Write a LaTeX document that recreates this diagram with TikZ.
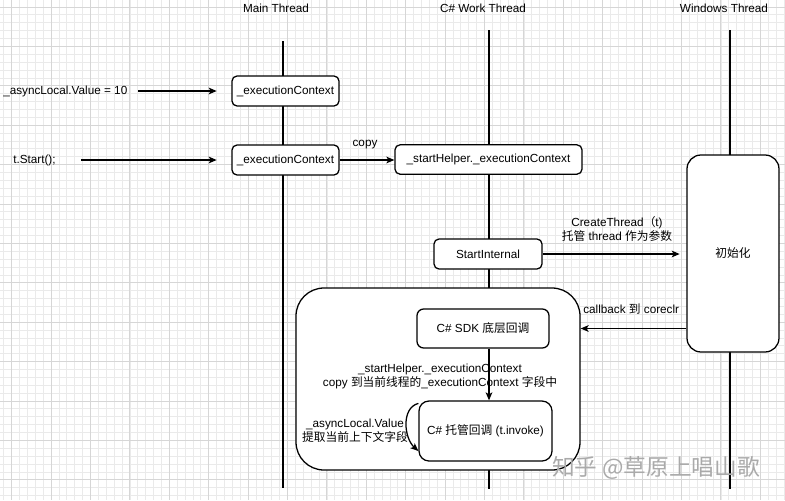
\documentclass[tikz,border=0pt]{standalone}
\usepackage{fontspec}
\setmainfont{Liberation Sans}
\newfontfamily\cjk{Noto Sans CJK SC}
\usetikzlibrary{arrows.meta,calc}
\definecolor{gridminor}{HTML}{EAEAEA}
\definecolor{gridmajor}{HTML}{D6D6D6}
\definecolor{wmgray}{HTML}{AAAAAA}
\begin{document}
\begin{tikzpicture}[x=0.75pt,y=-0.75pt,
  font=\fontsize{8.8}{10.5}\selectfont,
  box/.style={draw, fill=white, line width=0.95pt, inner sep=0pt, rounded corners=3.75pt, align=center},
  life/.style={line width=0.95pt},
  arr/.style={line width=0.95pt, -{Stealth[length=6pt,width=5pt,inset=1.5pt]}},
  lbl/.style={inner sep=0pt, align=center}]
\useasboundingbox[fill=white] (0,0) rectangle (785,500);
% grid
\foreach \k in {-1,...,98} {\draw[gridminor, line width=0.6pt] ({11.7+7.88*\k},0) -- ({11.7+7.88*\k},500);}
\foreach \k in {-1,...,63} {\draw[gridminor, line width=0.6pt] (0,{7+7.88*\k}) -- (785,{7+7.88*\k});}
\foreach \k in {0,...,19} {\draw[gridmajor, line width=0.7pt] ({11.7+39.4*\k},0) -- ({11.7+39.4*\k},500);}
\foreach \k in {0,...,12} {\draw[gridmajor, line width=0.7pt] (0,{7+39.4*\k}) -- (785,{7+39.4*\k});}
% headers
\node[lbl] (h1) at (276,8) {Main Thread};
\node[lbl] (h2) at (483,8) {C\# Work Thread};
\node[lbl] (h3) at (724,8) {Windows Thread};
% lifelines
\coordinate (mainTop) at (283,41);
\coordinate (mainBot) at (283,488);
\coordinate (csTop) at (489,30);
\coordinate (csBot) at (489,489);
\coordinate (winTop) at (730,30);
\coordinate (winBot) at (730,489);
\draw[life] (mainTop) -- (mainBot);
\draw[life] (csTop) -- (csBot);
\draw[life] (winTop) -- (winBot);
% boxes
\node[box, minimum width=80.25pt, minimum height=22.5pt] (ec1) at (285.5,91) {\_executionContext};
\node[box, minimum width=80.25pt, minimum height=22.5pt] (ec2) at (285.5,160) {\_executionContext};
\node[box, minimum width=140.25pt, minimum height=22pt] (sh) at (488.5,159.5) {\_startHelper.\_executionContext};
\node[box, minimum width=81pt, minimum height=22.5pt] (si) at (488,254) {StartInternal};
\node[box, rounded corners=10.5pt, minimum width=69pt, minimum height=147.75pt] (init) at (733,253.5) {\cjk 初始化};
\node[box, rounded corners=21pt, minimum width=213pt, minimum height=136.5pt] (big) at (438,379) {};
\node[box, rounded corners=5pt, minimum width=99pt, minimum height=29.25pt] (sdk) at (483,328.5) {C\# SDK {\cjk 底层回调}};
\node[box, rounded corners=7.5pt, minimum width=99.75pt, minimum height=45pt] (inv) at (485.5,431) {C\# {\cjk 托管回调} (t.invoke)};
% left texts
\node[lbl, anchor=west] (t1) at (3,91) {\_asyncLocal.Value = 10};
\node[lbl, anchor=west] (t2) at (13,160) {t.Start();};
\draw[arr, shorten <=8pt, shorten >=11pt] (t1.east) -- (ec1.west |- t1.east);
\draw[arr, shorten <=18.75pt, shorten >=11pt] (t2.east) -- (ec2.west |- t2.east);
% copy
\node[lbl] (cp) at (365,145) {copy};
\draw[arr] (ec2.east) -- (sh.west |- ec2.east);
% create thread
\node[lbl] (ct) at (617,229) {CreateThread{\cjk （}t)\\{\cjk 托管} thread {\cjk 作为参数}};
\draw[arr, shorten >=5pt] (si.east) -- (init.west |- si.east);
% callback
\node[lbl, anchor=west] (cb) at (583,309) {callback {\cjk 到} coreclr};
\draw[arr] (init.west |- sdk.center) -- (big.east |- sdk.center);
% inside
\draw[arr] (sdk.south -| csTop) -- (inv.north -| csTop);
\node[lbl] (sl) at (440,376.5) {\_startHelper.\_executionContext\\copy {\cjk 到当前线程的}\_executionContext {\cjk 字段中}};
\node[lbl] (al) at (355,430.5) {\_asyncLocal.Value\\{\cjk 提取当前上下文字段}};
\draw[arr] ([yshift=-2.25pt]inv.north west) .. controls (401,408) and (404,438) .. ([yshift=-15pt]inv.west);
% watermark
\node[text=wmgray, font=\cjk\fontsize{17}{17}\selectfont, inner sep=0pt] (wm) at (656,468) {知乎 @草原上唱山歌};
\end{tikzpicture}
\end{document}
